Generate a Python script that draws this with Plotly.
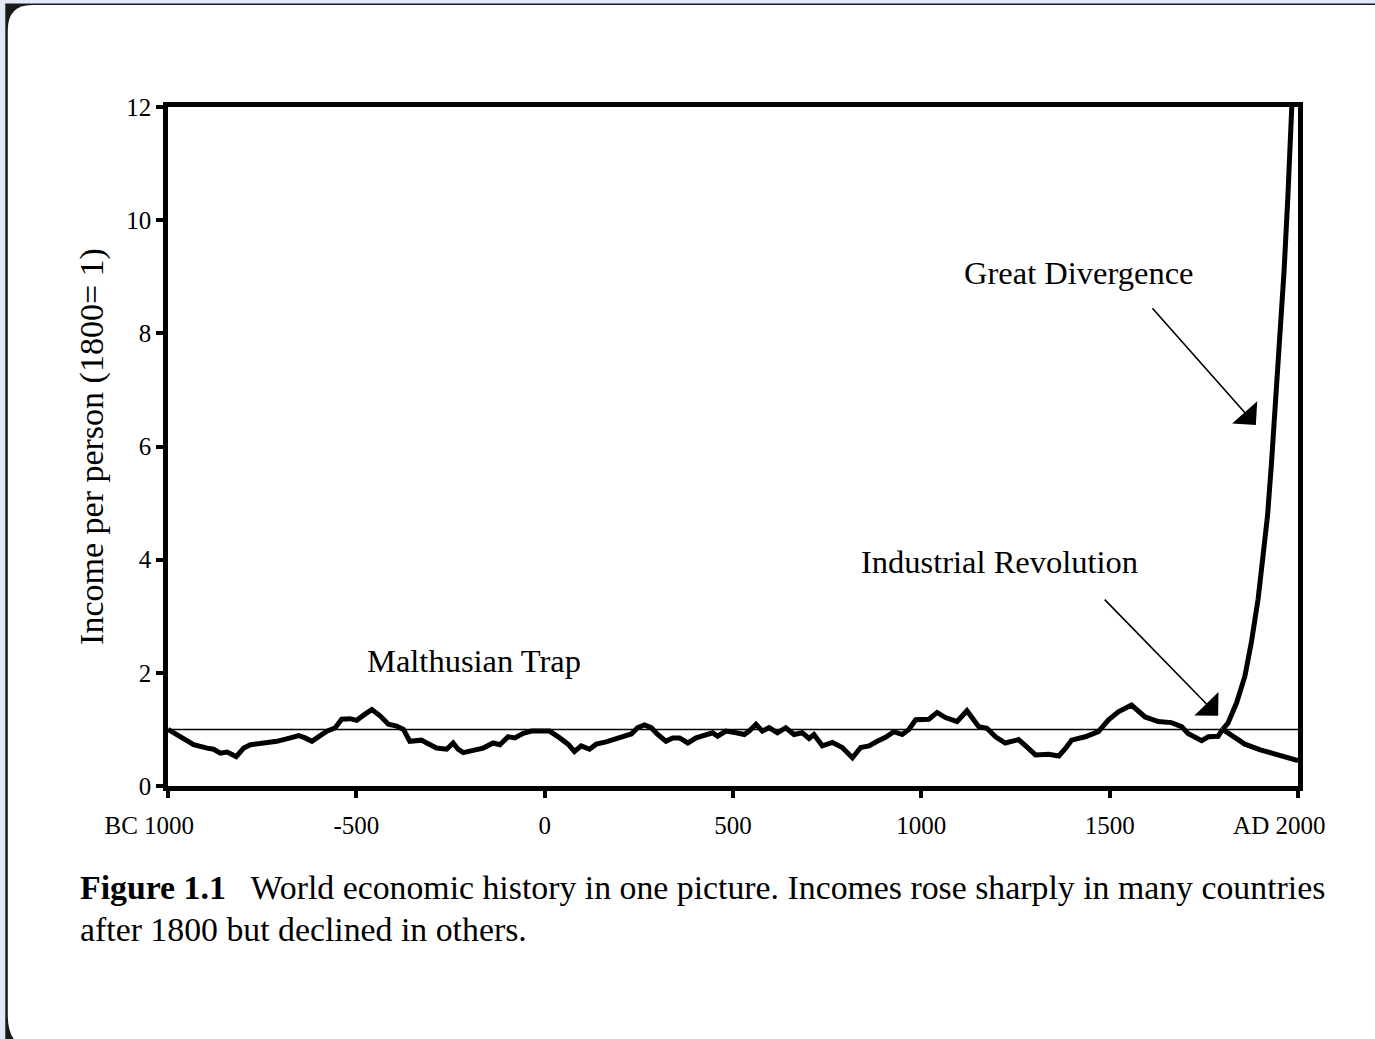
import plotly.graph_objects as go

# ---------------- data ----------------
malthus_years = [-1000, -958, -932, -896, -879, -861, -843, -819, -799, -781, -746, -711, -675,
                 -653, -636, -618, -596, -578, -556, -539, -517, -499, -477, -459, -437, -415,
                 -393, -375, -358, -327, -313, -287, -260, -243, -230, -216, -190, -163, -137,
                 -119, -97, -79, -57, -35, -5, 13, 40, 62, 79, 97, 119, 137, 163, 190, 212, 230,
                 247, 265, 283, 300, 322, 340, 358, 380, 402, 428, 446, 459, 481, 508, 530, 543,
                 561, 578, 596, 618, 640, 662, 684, 702, 715, 737, 764, 790, 817, 839, 861, 883,
                 905, 927, 949, 967, 985, 1020, 1042, 1064, 1095, 1121, 1152, 1174, 1197, 1223,
                 1258, 1280, 1303, 1338, 1365, 1382, 1399, 1435, 1470, 1497, 1523, 1558, 1575,
                 1594, 1629, 1664, 1691, 1708, 1744, 1762, 1788, 1800]
malthus_income = [1.00, 0.82, 0.73, 0.67, 0.65, 0.58, 0.60, 0.52, 0.67, 0.73, 0.75, 0.79, 0.85,
                  0.89, 0.85, 0.79, 0.89, 0.97, 1.03, 1.18, 1.19, 1.16, 1.27, 1.35, 1.24, 1.09,
                  1.06, 1.00, 0.79, 0.81, 0.76, 0.67, 0.65, 0.76, 0.65, 0.59, 0.63, 0.67, 0.76,
                  0.73, 0.87, 0.85, 0.93, 0.97, 0.97, 0.97, 0.85, 0.74, 0.61, 0.71, 0.65, 0.74,
                  0.78, 0.83, 0.88, 0.92, 1.03, 1.08, 1.03, 0.91, 0.79, 0.85, 0.85, 0.76, 0.85,
                  0.91, 0.94, 0.88, 0.97, 0.94, 0.91, 0.97, 1.09, 0.97, 1.03, 0.94, 1.03, 0.91,
                  0.94, 0.84, 0.91, 0.71, 0.77, 0.68, 0.50, 0.68, 0.71, 0.79, 0.86, 0.96, 0.91,
                  1.00, 1.17, 1.18, 1.30, 1.21, 1.14, 1.33, 1.05, 1.02, 0.87, 0.76, 0.82, 0.69,
                  0.55, 0.56, 0.53, 0.66, 0.81, 0.87, 0.96, 1.17, 1.31, 1.43, 1.34, 1.22, 1.14,
                  1.12, 1.05, 0.93, 0.80, 0.87, 0.88, 1.00]

rise_years = [1800, 1814, 1837, 1859, 1876, 1894, 1907, 1919, 1929, 1938, 1952, 1963, 1973, 1984, 1990]
rise_income = [1.00, 1.11, 1.47, 1.94, 2.53, 3.30, 4.06, 4.77, 5.65, 6.50, 7.78, 9.10, 10.40, 11.95, 13.0]

decline_years = [1800, 1830, 1859, 1900, 1929, 1960, 2000]
decline_income = [1.00, 0.86, 0.74, 0.64, 0.58, 0.51, 0.45]

ref_years = [-1000, 2000]
ref_income = [1, 1]

x_tickvals = [-1000, -500, 0, 500, 1000, 1500, 2000]
x_ticktext = ["BC 1000\u2007\u2007\u2007", "-500", "0", "500", "1000", "1500", "AD 2000\u2007\u2007\u2007"]
y_tickvals = [0, 2, 4, 6, 8, 10, 12]

y_title = "Income per person (1800= 1)"
caption_line1 = "<b>Figure 1.1</b>   World economic history in one picture. Incomes rose sharply in many countries"
caption_line2 = "after 1800 but declined in others."

# ---------------- layout geometry ----------------
W, H = 1375, 1039
L, R, T, B = 168, 1300, 107, 786
FONT = "Liberation Serif, Times New Roman, serif"


def px(xp):
    return (xp - L) / (R - L)


def py(yp):
    return (B - yp) / (B - T)


fig = go.Figure()
line_style = dict(color="black", width=5)
fig.add_trace(go.Scatter(x=ref_years, y=ref_income, mode="lines",
                         line=dict(color="black", width=1.5), hoverinfo="skip"))
fig.add_trace(go.Scatter(x=malthus_years, y=malthus_income, mode="lines", line=line_style))
fig.add_trace(go.Scatter(x=rise_years, y=rise_income, mode="lines", line=line_style))
fig.add_trace(go.Scatter(x=decline_years, y=decline_income, mode="lines", line=line_style))

# page decoration (scanned page look)
shapes = [
    dict(type="rect", xref="paper", yref="paper", x0=px(5), x1=px(1380), y0=py(3.5), y1=py(1045),
         fillcolor="#1a1a1a", line=dict(width=0), layer="below"),
    dict(type="path", xref="paper", yref="paper", layer="below", fillcolor="white", line=dict(width=0),
         path=(f"M {px(7.5)},{py(30)} Q {px(7.5)},{py(5)} {px(32)},{py(5)} "
               f"L {px(1380)},{py(5)} L {px(1380)},{py(1045)} L {px(22)},{py(1045)} "
               f"Q {px(7.5)},{py(1040)} {px(7.5)},{py(1015)} Z")),
]

annotations = [
    dict(text="Great Divergence", x=1417, y=9.07, xref="x", yref="y", showarrow=False,
         font=dict(family=FONT, size=32.5, color="black")),
    dict(text="Industrial Revolution", x=1208, y=3.96, xref="x", yref="y", showarrow=False,
         font=dict(family=FONT, size=32.5, color="black")),
    dict(text="Malthusian Trap", x=-188, y=2.21, xref="x", yref="y", showarrow=False,
         font=dict(family=FONT, size=32.5, color="black")),
    dict(text="", x=1888, y=6.38, ax=1610, ay=8.47, xref="x", yref="y", axref="x", ayref="y",
         showarrow=True, arrowhead=1, arrowsize=3.5, arrowwidth=1.6, arrowcolor="black"),
    dict(text="", x=1788, y=1.24, ax=1483, ay=3.32, xref="x", yref="y", axref="x", ayref="y",
         showarrow=True, arrowhead=1, arrowsize=3.5, arrowwidth=1.6, arrowcolor="black"),
    dict(text=caption_line1, x=px(78), y=py(888), xref="paper", yref="paper", xanchor="left",
         yanchor="middle", showarrow=False, font=dict(family=FONT, size=33.8, color="black")),
    dict(text=caption_line2, x=px(78), y=py(930), xref="paper", yref="paper", xanchor="left",
         yanchor="middle", showarrow=False, font=dict(family=FONT, size=33.8, color="black")),
]

fig.update_layout(
    width=W, height=H,
    margin=dict(l=L, r=W - R, t=T, b=H - B, pad=0),
    paper_bgcolor="#e3e8f8",
    plot_bgcolor="rgba(0,0,0,0)",
    showlegend=False,
    shapes=shapes,
    annotations=annotations,
    font=dict(family=FONT, color="black"),
    xaxis=dict(range=[-1000, 2000], tickvals=x_tickvals, ticktext=x_ticktext,
               showgrid=False, zeroline=False, showline=True, linecolor="black", linewidth=4.5,
               mirror=True, ticks="outside", ticklen=7, tickwidth=4, tickcolor="black",
               tickfont=dict(family=FONT, size=25, color="black"), ticklabelstandoff=6),
    yaxis=dict(range=[0, 12], tickvals=y_tickvals, showgrid=False, zeroline=False,
               showline=True, linecolor="black", linewidth=4.5, mirror=True,
               ticks="outside", ticklen=7, tickwidth=4, tickcolor="black",
               tickfont=dict(family=FONT, size=25, color="black"), ticklabelstandoff=0,
               title=dict(text=y_title, font=dict(family=FONT, size=34, color="black"), standoff=14)),
)

fig.write_html("out.html", config={"displayModeBar": False},
               post_script="document.body.style.margin='0';document.body.style.overflow='hidden';")
